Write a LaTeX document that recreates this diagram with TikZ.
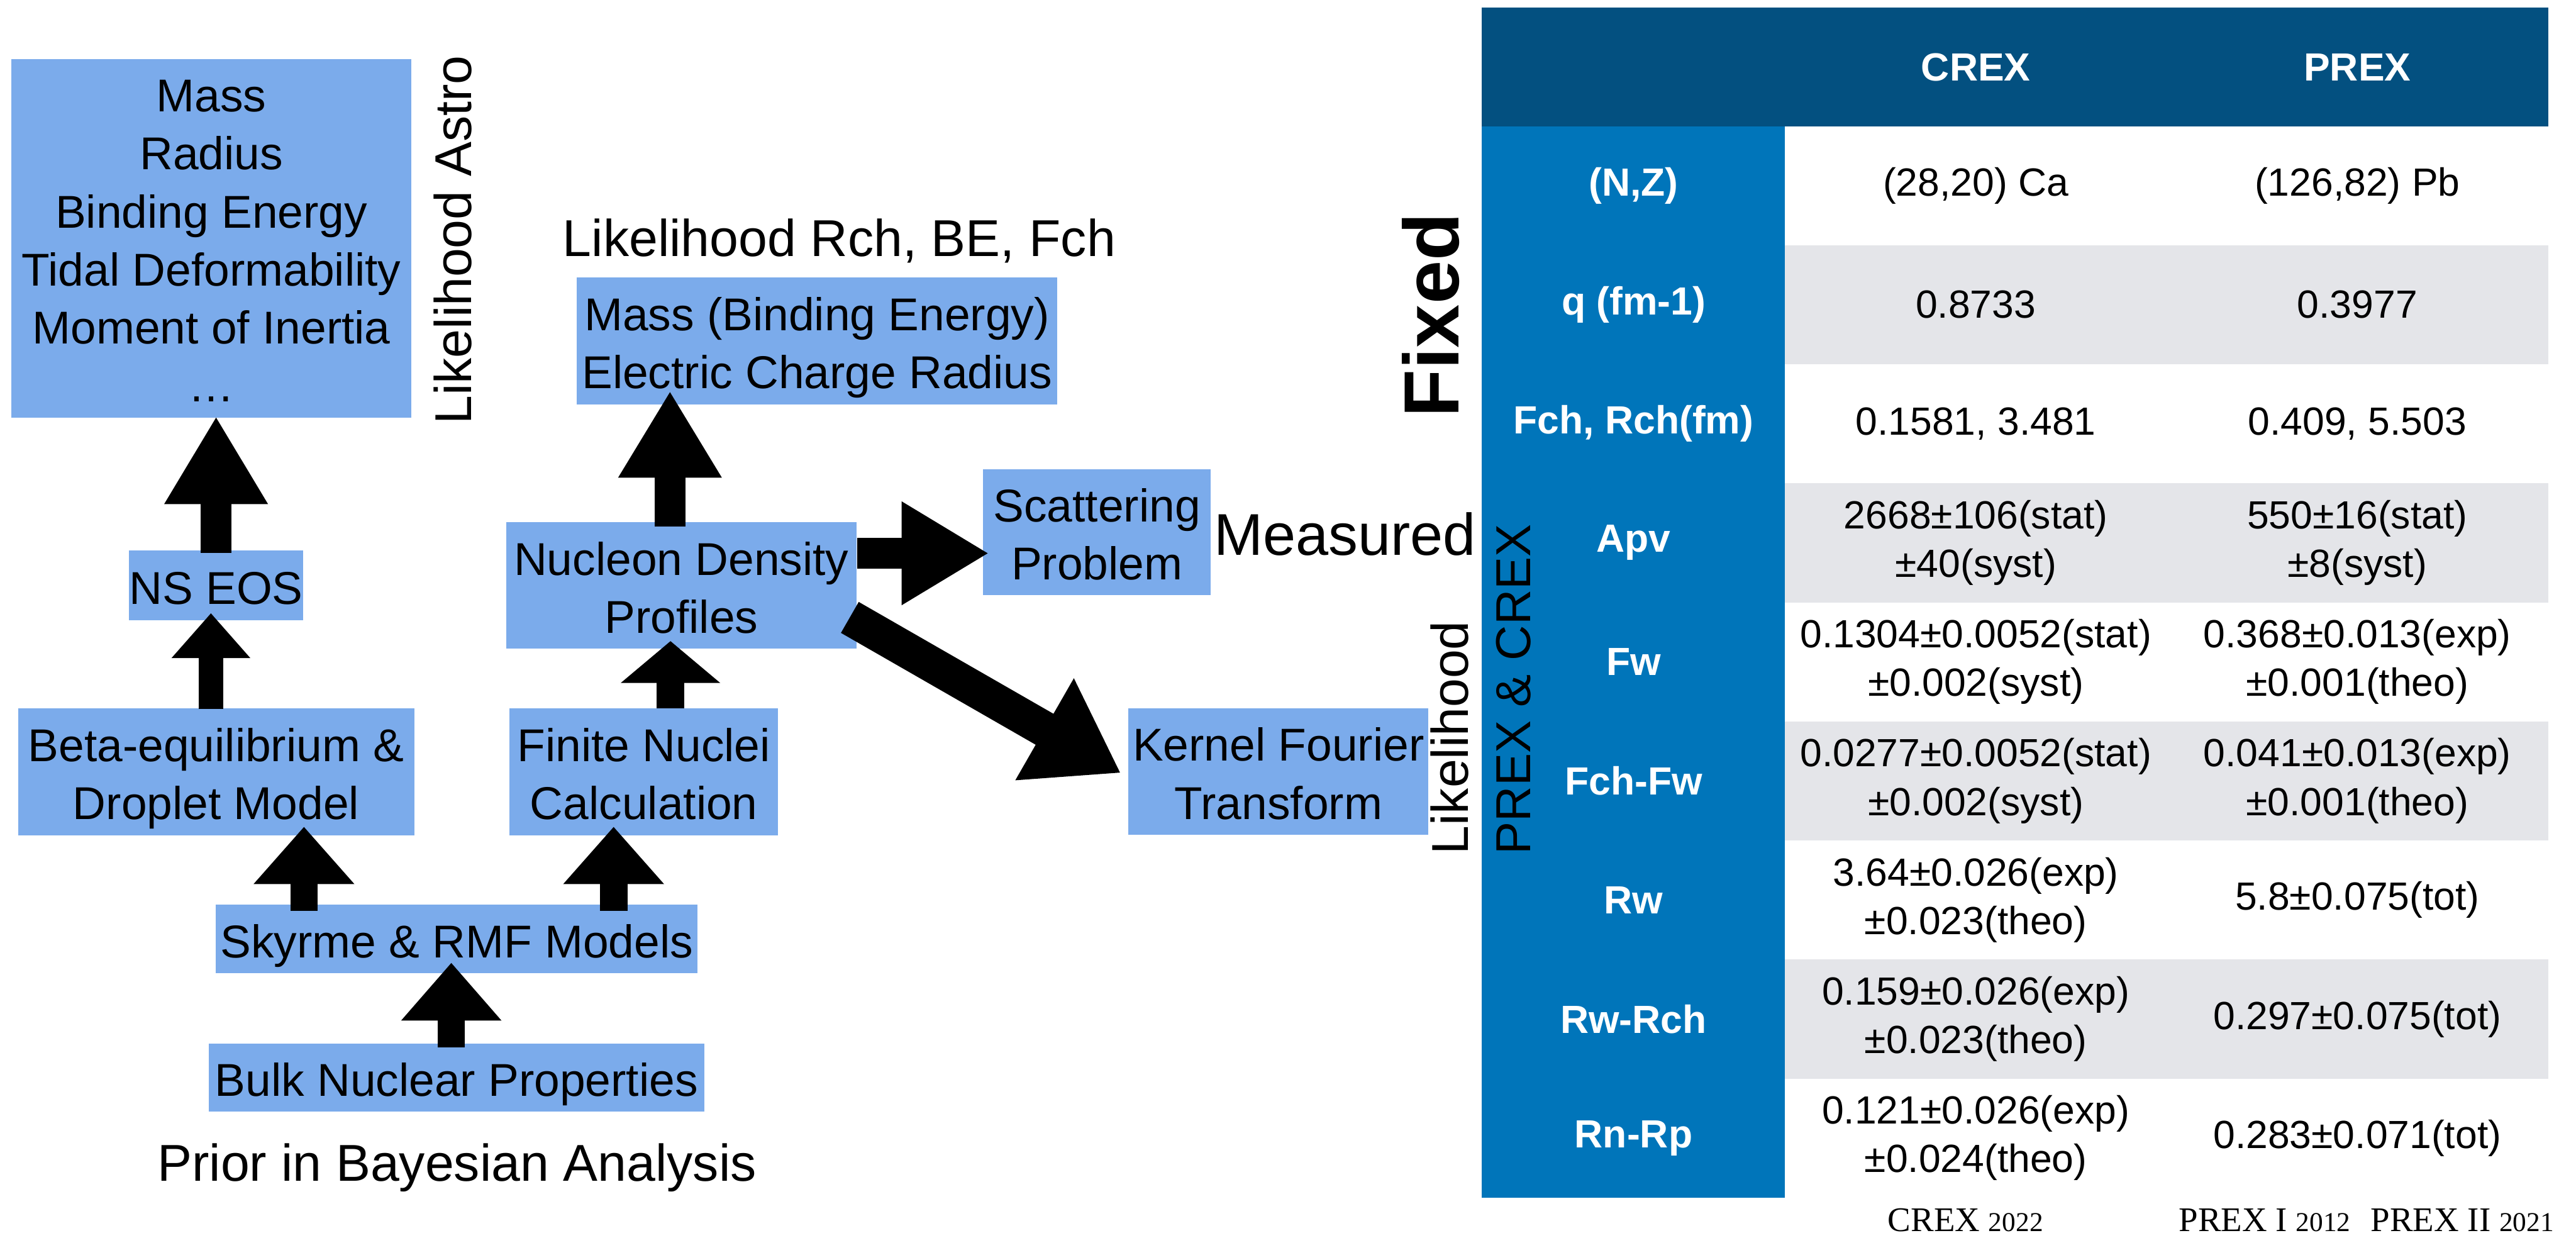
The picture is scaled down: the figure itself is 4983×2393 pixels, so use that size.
\documentclass[tikz,border=0pt]{standalone}
\usepackage{fontspec}
\setmainfont{Liberation Sans}
\newfontfamily\serifnum{Liberation Serif}
\usetikzlibrary{arrows.meta,calc}
\definecolor{boxblue}{RGB}{123,171,235}
\definecolor{hdrblue}{RGB}{3,80,128}
\definecolor{colblue}{RGB}{0,117,186}
\definecolor{rowgray}{RGB}{228,229,233}
\newcommand\bxs{\rule[-0.22em]{0pt}{1.25em}}
\begin{document}
\begin{tikzpicture}[x=0.01cm,y=-0.01cm,
  box/.style={fill=boxblue, inner sep=0pt, align=center, font=\fontsize{25.3}{31.9}\selectfont},
  lbl/.style={inner sep=0pt, font=\fontsize{28.5}{34}\selectfont},
  cell/.style={inner sep=0pt, align=center, font=\fontsize{21.6}{26.75}\selectfont},
  hcell/.style={inner sep=0pt, align=center, text=white, font=\bfseries\fontsize{21.6}{26.75}\selectfont},
  yearlbl/.style={inner sep=0pt, anchor=base, font=\serifnum\fontsize{19}{22}\selectfont},
  barrow/.style n args={3}{line width=#1, -{Triangle[length=#2,width=#3]}},
]
\useasboundingbox (0,0) rectangle (4983,2393);

% ---------- flow boxes ----------
\node[box, minimum width=7.74cm, minimum height=6.93cm] (astro) at (409,460.5)
  {\bxs Mass\\\bxs Radius\\\bxs Binding Energy\\\bxs Tidal Deformability\\\bxs Moment of Inertia\\\bxs …};
\node[box, minimum width=3.32cm, minimum height=1.34cm] (nseos) at (418,1132) {\bxs NS EOS};
\node[box, minimum width=7.66cm, minimum height=2.45cm] (beta) at (418,1492.5)
  {\bxs Beta-equilibrium \&\\\bxs Droplet Model};
\node[box, minimum width=9.31cm, minimum height=1.32cm] (skyrme) at (883.5,1816) {\bxs Skyrme \& RMF Models};
\node[box, minimum width=9.58cm, minimum height=1.32cm] (bulk) at (883,2084) {\bxs Bulk Nuclear Properties};
\node[box, minimum width=5.19cm, minimum height=2.45cm] (finite) at (1245.5,1492.5)
  {\bxs Finite Nuclei\\\bxs Calculation};
\node[box, minimum width=6.78cm, minimum height=2.44cm] (nucleon) at (1318,1132)
  {\bxs Nucleon Density\\\bxs Profiles};
\node[box, minimum width=9.29cm, minimum height=2.45cm] (mass) at (1580.5,659.5)
  {\bxs Mass (Binding Energy)\\\bxs Electric Charge Radius};
\node[box, minimum width=4.40cm, minimum height=2.44cm] (scatter) at (2122,1029)
  {\bxs Scattering\\\bxs Problem};
\node[box, minimum width=5.80cm, minimum height=2.44cm] (kernel) at (2473,1492)
  {\bxs Kernel Fourier\\\bxs Transform};

% ---------- block arrows ----------
\draw[barrow={0.47cm}{0.87cm}{1.47cm}] ($(beta.north)+(-10,2)$) -- ($(nseos.south)+(-10,-14)$);
\draw[barrow={0.60cm}{1.70cm}{1.88cm}] ($(nseos.north)+(0,5)$) -- ($(astro.south)+(9,-3)$);
\draw[barrow={0.53cm}{1.11cm}{1.88cm}] ($(skyrme.north)+(-295.5,12)$) -- ($(beta.south)+(170,-17)$);
\draw[barrow={0.53cm}{1.11cm}{1.88cm}] ($(skyrme.north)+(303.5,12)$) -- ($(finite.south)+(-58.5,-17)$);
\draw[barrow={0.52cm}{1.12cm}{1.87cm}] ($(bulk.north)+(-10,8)$) -- ($(skyrme.south)+(-10.5,-21)$);
\draw[barrow={0.53cm}{0.81cm}{1.88cm}] ($(finite.north)+(51.5,0)$) -- ($(nucleon.south)+(-21,-15)$);
\draw[barrow={0.60cm}{1.68cm}{1.88cm}] ($(nucleon.north)+(-22,9)$) -- ($(mass.south)+(-284.5,-27)$);
\draw[barrow={0.60cm}{1.69cm}{1.88cm}] ($(nucleon.east)+(0,-62)$) -- ($(scatter.west)+(12,41)$);
\draw[barrow={0.69cm}{1.70cm}{2.15cm}] ($(nucleon.east)+(-14,62)$) -- ($(kernel.west)+(-14,3)$);

% ---------- free labels ----------
\node[lbl, rotate=90, anchor=base west] (lastro) at (912,821) {Likelihood Astro};
\node[lbl, anchor=base west] (lrch) at (1088,496) {Likelihood Rch, BE, Fch};
\node[lbl, anchor=base west] (prior) at (304,2284) {Prior in Bayesian Analysis};
\node[inner sep=0pt, anchor=base west, font=\fontsize{32.4}{38}\selectfont] (meas) at (2348,1073) {Measured};
\node[inner sep=0pt, rotate=90, anchor=base west, font=\bfseries\fontsize{43}{50}\selectfont] (fixed) at (2822,808) {Fixed};

% ---------- table ----------
\fill[hdrblue] (2866,14) rectangle (4929,244);
\fill[colblue] (2866,244) rectangle (3453,2316);
\fill[rowgray] (3453,474.2) rectangle (4929,704.4);
\fill[rowgray] (3453,934.7) rectangle (4929,1164.9);
\fill[rowgray] (3453,1395.1) rectangle (4929,1625.3);
\fill[rowgray] (3453,1855.6) rectangle (4929,2085.8);

\node[lbl, rotate=90, anchor=base west] (llik) at (2840,1653) {Likelihood};
\node[inner sep=0pt, rotate=90, anchor=base west, font=\fontsize{27}{32}\selectfont] (lpc) at (2960,1653) {PREX \& CREX};

\node[hcell] (hcrex) at (3822,130) {CREX};
\node[hcell] (hprex) at (4560,130) {PREX};

\node[hcell] (r1) at (3160,359.1) {(N,Z)};
\node[hcell] (r2) at (3160,589.3) {q (fm-1)};
\node[hcell] (r3) at (3160,819.6) {Fch, Rch(fm)};
\node[hcell] (r4) at (3160,1049.8) {Apv};
\node[hcell] (r5) at (3160,1280.0) {Fw};
\node[hcell] (r6) at (3160,1510.2) {Fch-Fw};
\node[hcell] (r7) at (3160,1740.4) {Rw};
\node[hcell] (r8) at (3160,1970.7) {Rw-Rch};
\node[hcell] (r9) at (3160,2200.9) {Rn-Rp};

\node[cell] (c1) at (3822,359.1) {(28,20) Ca};
\node[cell] (c2) at (3822,589.3) {0.8733};
\node[cell] (c3) at (3822,819.6) {0.1581, 3.481};
\node[cell] (c4) at (3822,1049.8) {2668±106(stat)\\±40(syst)};
\node[cell] (c5) at (3822,1280.0) {0.1304±0.0052(stat)\\±0.002(syst)};
\node[cell] (c6) at (3822,1510.2) {0.0277±0.0052(stat)\\±0.002(syst)};
\node[cell] (c7) at (3822,1740.4) {3.64±0.026(exp)\\±0.023(theo)};
\node[cell] (c8) at (3822,1970.7) {0.159±0.026(exp)\\±0.023(theo)};
\node[cell] (c9) at (3822,2200.9) {0.121±0.026(exp)\\±0.024(theo)};

\node[cell] (p1) at (4560,359.1) {(126,82) Pb};
\node[cell] (p2) at (4560,589.3) {0.3977};
\node[cell] (p3) at (4560,819.6) {0.409, 5.503};
\node[cell] (p4) at (4560,1049.8) {550±16(stat)\\±8(syst)};
\node[cell] (p5) at (4560,1280.0) {0.368±0.013(exp)\\±0.001(theo)};
\node[cell] (p6) at (4560,1510.2) {0.041±0.013(exp)\\±0.001(theo)};
\node[cell] (p7) at (4560,1740.4) {5.8±0.075(tot)};
\node[cell] (p8) at (4560,1970.7) {0.297±0.075(tot)};
\node[cell] (p9) at (4560,2200.9) {0.283±0.071(tot)};

\node[yearlbl] (ycrex) at (3802,2381) {CREX {\fontsize{15}{16}\selectfont 2022}};
\node[yearlbl] (yprex1) at (4381,2381) {PREX I {\fontsize{15}{16}\selectfont 2012}};
\node[yearlbl] (yprex2) at (4763,2381) {PREX II {\fontsize{15}{16}\selectfont 2021}};
\end{tikzpicture}
\end{document}
